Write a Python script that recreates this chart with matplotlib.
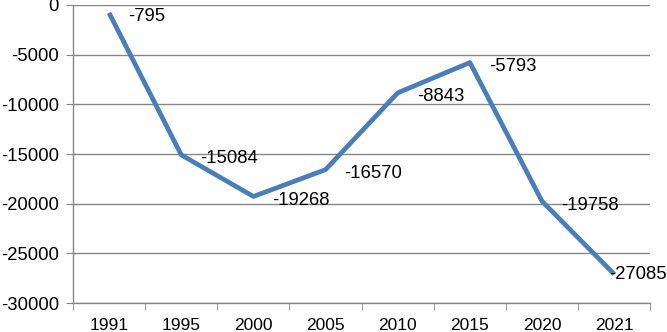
import matplotlib
matplotlib.use("Agg")
from matplotlib import pyplot as plt

years = ['1991', '1995', '2000', '2005', '2010', '2015', '2020', '2021']
values = [-795, -15084, -19268, -16570, -8843, -5793, -19758, -27085]

fig = plt.figure(figsize=(6.67, 3.32), dpi=100)
ax = fig.add_axes([0.1094, 0.087, 0.8656, 0.898])

x = list(range(len(years)))
ax.plot(x, values, color='#4a7ebb', linewidth=3.4, solid_capstyle='butt', zorder=3)

# подписи значений справа от точек, последнюю сдвигаем влево, чтобы влезла
for i, (xi, v) in enumerate(zip(x, values)):
    off = (19, -4) if i < len(values) - 1 else (-5, 0)
    ax.annotate(str(v), (xi, v), xytext=off, textcoords='offset pixels',
                ha='left', va='center', fontsize=13.3, family='Liberation Sans',
                zorder=4)

ax.set_xlim(-0.5, len(years) - 0.5)
ax.set_ylim(-30000, 0)
ax.set_yticks(range(-30000, 1, 5000))
ax.set_yticklabels([str(t) for t in range(-30000, 1, 5000)], family='Liberation Sans', fontsize=13.3)
ax.set_xticks(x)
ax.set_xticklabels(years, family='Liberation Sans', fontsize=12.5)
ax.set_xticks([i - 0.5 for i in range(len(years) + 1)], minor=True)
ax.tick_params(axis='x', which='major', length=0, pad=11)
ax.tick_params(axis='x', which='minor', length=5, color='#868686')
ax.tick_params(axis='y', length=5, color='#868686', pad=5)

ax.grid(axis='y', color='#868686', linewidth=1)
ax.set_axisbelow(True)
for s in ['top', 'right']:
    ax.spines[s].set_visible(False)
for s in ['left', 'bottom']:
    ax.spines[s].set_color('#868686')
    ax.spines[s].set_linewidth(1)

fig.savefig('out.png', dpi=100)
